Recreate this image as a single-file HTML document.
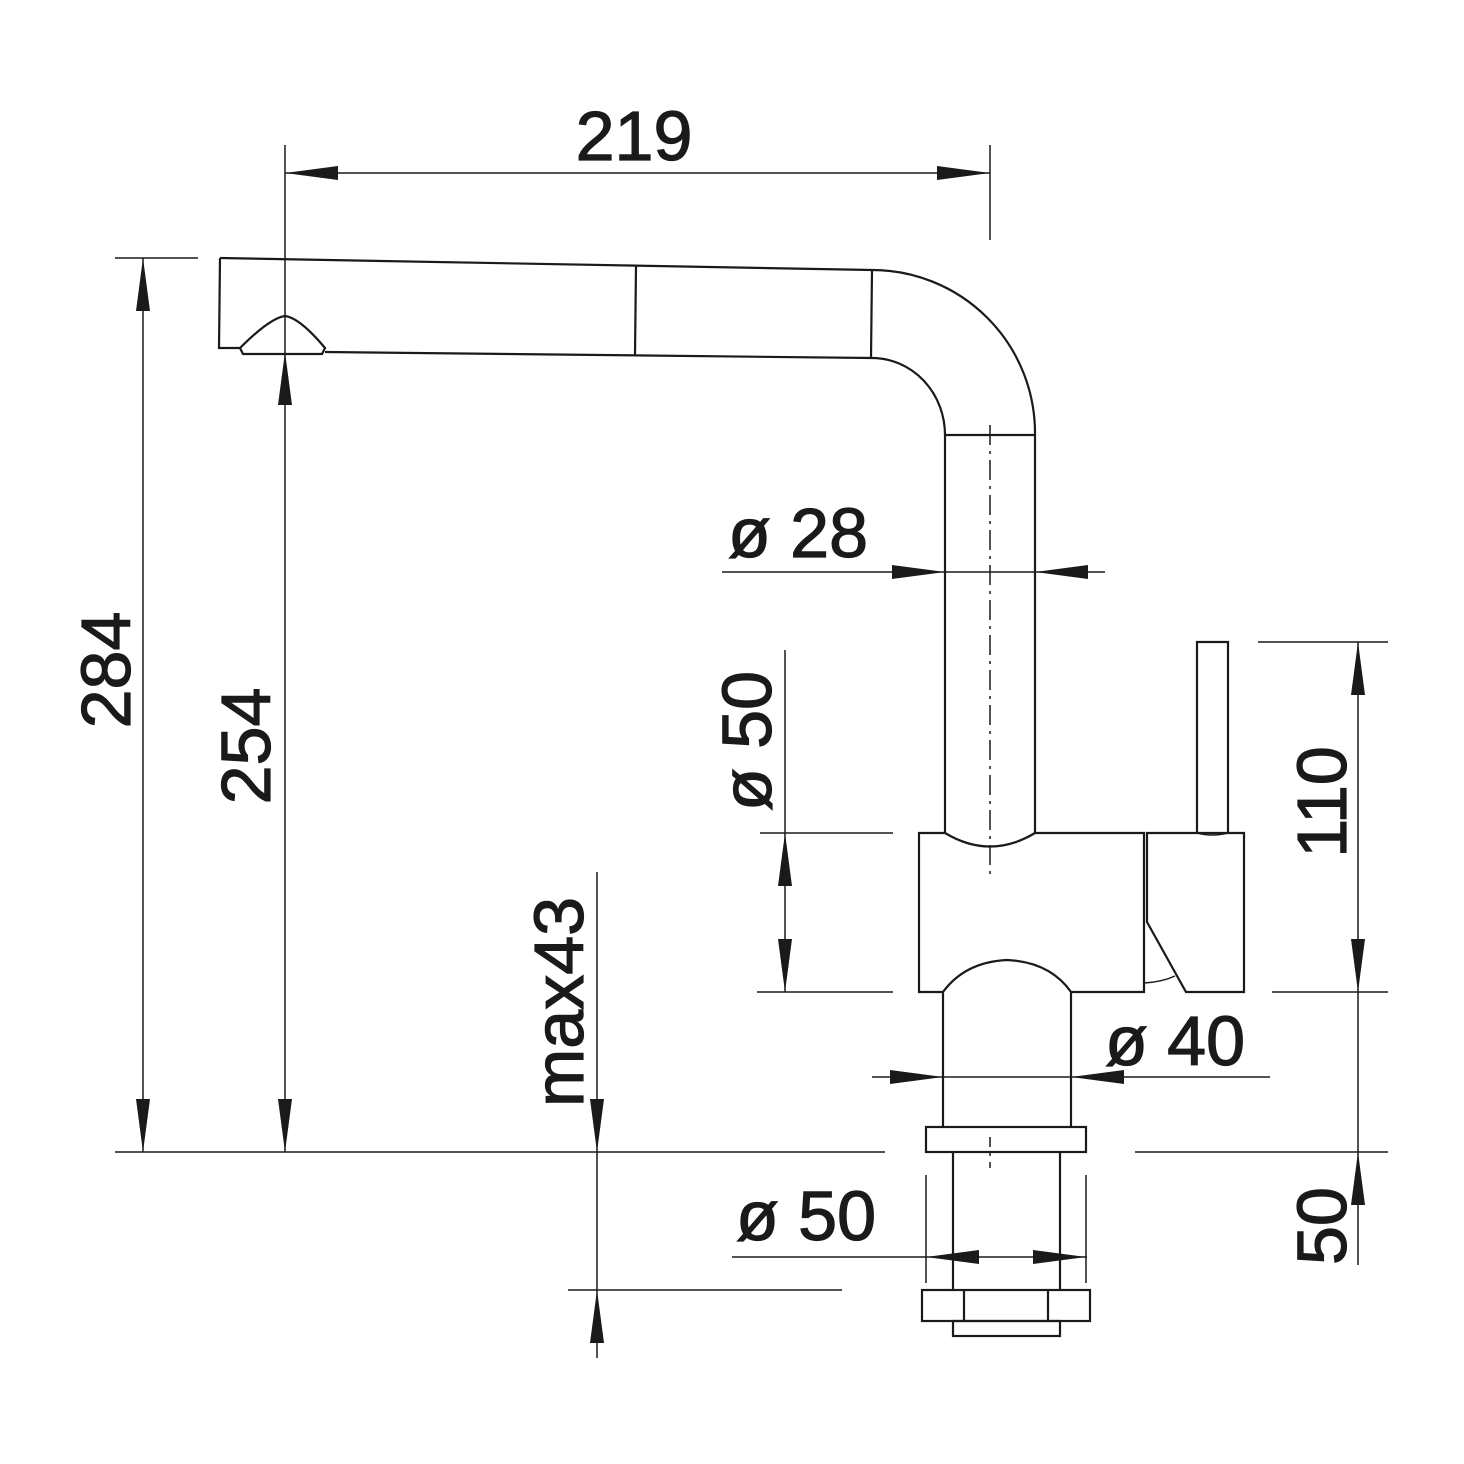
<!DOCTYPE html>
<html><head><style>html,body{margin:0;padding:0;background:#fff}svg{display:block}</style></head>
<body>
<svg width="1464" height="1464" viewBox="0 0 1464 1464" xmlns="http://www.w3.org/2000/svg">
<defs>
<style>
.l{stroke:#1a1a1a;stroke-width:2.2;fill:none}
.d{stroke:#1a1a1a;stroke-width:1.5;fill:none}
.t{font-family:"Liberation Sans",Arial,sans-serif;font-size:70px;fill:#1a1a1a;stroke:#1a1a1a;stroke-width:1.2}
</style>
</defs>
<path class="l" d="M220,258 L872,270 A163,163 0 0 1 1035,433 L1035,833"/>
<path class="l" d="M220,258 L219,348 L240,348"/>
<path class="l" d="M325,352 L872,358 A73,77 0 0 1 945,435 L945,833"/>
<line class="l" x1="636" y1="266" x2="635" y2="355"/>
<line class="l" x1="872" y1="270" x2="871" y2="358"/>
<line class="l" x1="945" y1="435" x2="1035" y2="435"/>
<path class="l" d="M240,348 Q270,318 285,316 Q300,318 325,348 L322,354 L243,354 Z"/>
<path class="l" d="M919,833 L945,833 Q990,860 1035,833 L1144,833 L1144,992 L1071,992 Q1050,962 1007,960 Q965,962 943,992 L919,992 Z"/>
<path class="l" d="M1147,833 L1244,833 L1244,992 L1186,992 L1147,922 Z"/>
<path class="d" d="M1144,983 Q1162,982 1175,976"/>
<path class="l" d="M1197,833 L1197,642 L1228,642 L1228,833"/>
<path class="d" d="M1197,833 Q1212,837 1228,833"/>
<line class="l" x1="943" y1="992" x2="943" y2="1127"/>
<line class="l" x1="1071" y1="992" x2="1071" y2="1127"/>
<rect class="l" x="926" y="1127" width="160" height="25"/>
<line class="l" x1="953" y1="1152" x2="953" y2="1290"/>
<line class="l" x1="1060" y1="1152" x2="1060" y2="1290"/>
<rect class="l" x="922" y="1290" width="168" height="31"/>
<line class="l" x1="964" y1="1290" x2="964" y2="1321"/>
<line class="l" x1="1048" y1="1290" x2="1048" y2="1321"/>
<rect class="l" x="953" y="1321" width="107" height="15"/>
<line class="d" x1="990" y1="425" x2="990" y2="880" stroke-dasharray="20,6,3,6"/>
<line class="d" x1="990" y1="1137" x2="990" y2="1168" stroke-dasharray="10,6,3,6"/>
<g class="d">
<line x1="285" y1="145" x2="285" y2="1152"/>
<line x1="990" y1="145" x2="990" y2="240"/>
<line x1="285" y1="173" x2="990" y2="173"/>
<line x1="115" y1="258" x2="198" y2="258"/>
<line x1="115" y1="1152" x2="885" y2="1152"/>
<line x1="1135" y1="1152" x2="1388" y2="1152"/>
<line x1="143" y1="258" x2="143" y2="1152"/>
<line x1="722" y1="572" x2="1105" y2="572"/>
<line x1="785" y1="650" x2="785" y2="992"/>
<line x1="760" y1="833" x2="893" y2="833"/>
<line x1="757" y1="992" x2="893" y2="992"/>
<line x1="597" y1="872" x2="597" y2="1358"/>
<line x1="568" y1="1290" x2="842" y2="1290"/>
<line x1="872" y1="1077" x2="1270" y2="1077"/>
<line x1="732" y1="1257" x2="1087" y2="1257"/>
<line x1="926" y1="1175" x2="926" y2="1283"/>
<line x1="1086" y1="1175" x2="1086" y2="1283"/>
<line x1="1358" y1="642" x2="1358" y2="1265"/>
<line x1="1258" y1="642" x2="1388" y2="642"/>
<line x1="1272" y1="992" x2="1388" y2="992"/>
</g>
<g fill="#1a1a1a">
<polygon points="285,173 338,166 338,180"/>
<polygon points="990,173 937,166 937,180"/>
<polygon points="143,258 136,311 150,311"/>
<polygon points="143,1152 136,1099 150,1099"/>
<polygon points="285,352 278,405 292,405"/>
<polygon points="285,1152 278,1099 292,1099"/>
<polygon points="945,572 892,565 892,579"/>
<polygon points="1035,572 1088,565 1088,579"/>
<polygon points="785,833 778,886 792,886"/>
<polygon points="785,992 778,939 792,939"/>
<polygon points="597,1152 590,1099 604,1099"/>
<polygon points="597,1290 590,1343 604,1343"/>
<polygon points="943,1077 890,1070 890,1084"/>
<polygon points="1071,1077 1124,1070 1124,1084"/>
<polygon points="926,1257 979,1250 979,1264"/>
<polygon points="1086,1257 1033,1250 1033,1264"/>
<polygon points="1358,642 1351,695 1365,695"/>
<polygon points="1358,992 1351,939 1365,939"/>
<polygon points="1358,1152 1351,1205 1365,1205"/>
</g>
<text class="t" x="634" y="160" text-anchor="middle">219</text>
<text class="t" x="798" y="557" text-anchor="middle">ø 28</text>
<text class="t" x="1175" y="1065" text-anchor="middle">ø 40</text>
<text class="t" x="806" y="1240" text-anchor="middle">ø 50</text>
<text class="t" transform="translate(130,670) rotate(-90)" text-anchor="middle">284</text>
<text class="t" transform="translate(270,746) rotate(-90)" text-anchor="middle">254</text>
<text class="t" transform="translate(771,741) rotate(-90)" text-anchor="middle">ø 50</text>
<text class="t" transform="translate(583,1002) rotate(-90)" text-anchor="middle">max43</text>
<text class="t" transform="translate(1346,802) rotate(-90)" text-anchor="middle">110</text>
<text class="t" transform="translate(1346,1226) rotate(-90)" text-anchor="middle">50</text>
</svg>
</body></html>
